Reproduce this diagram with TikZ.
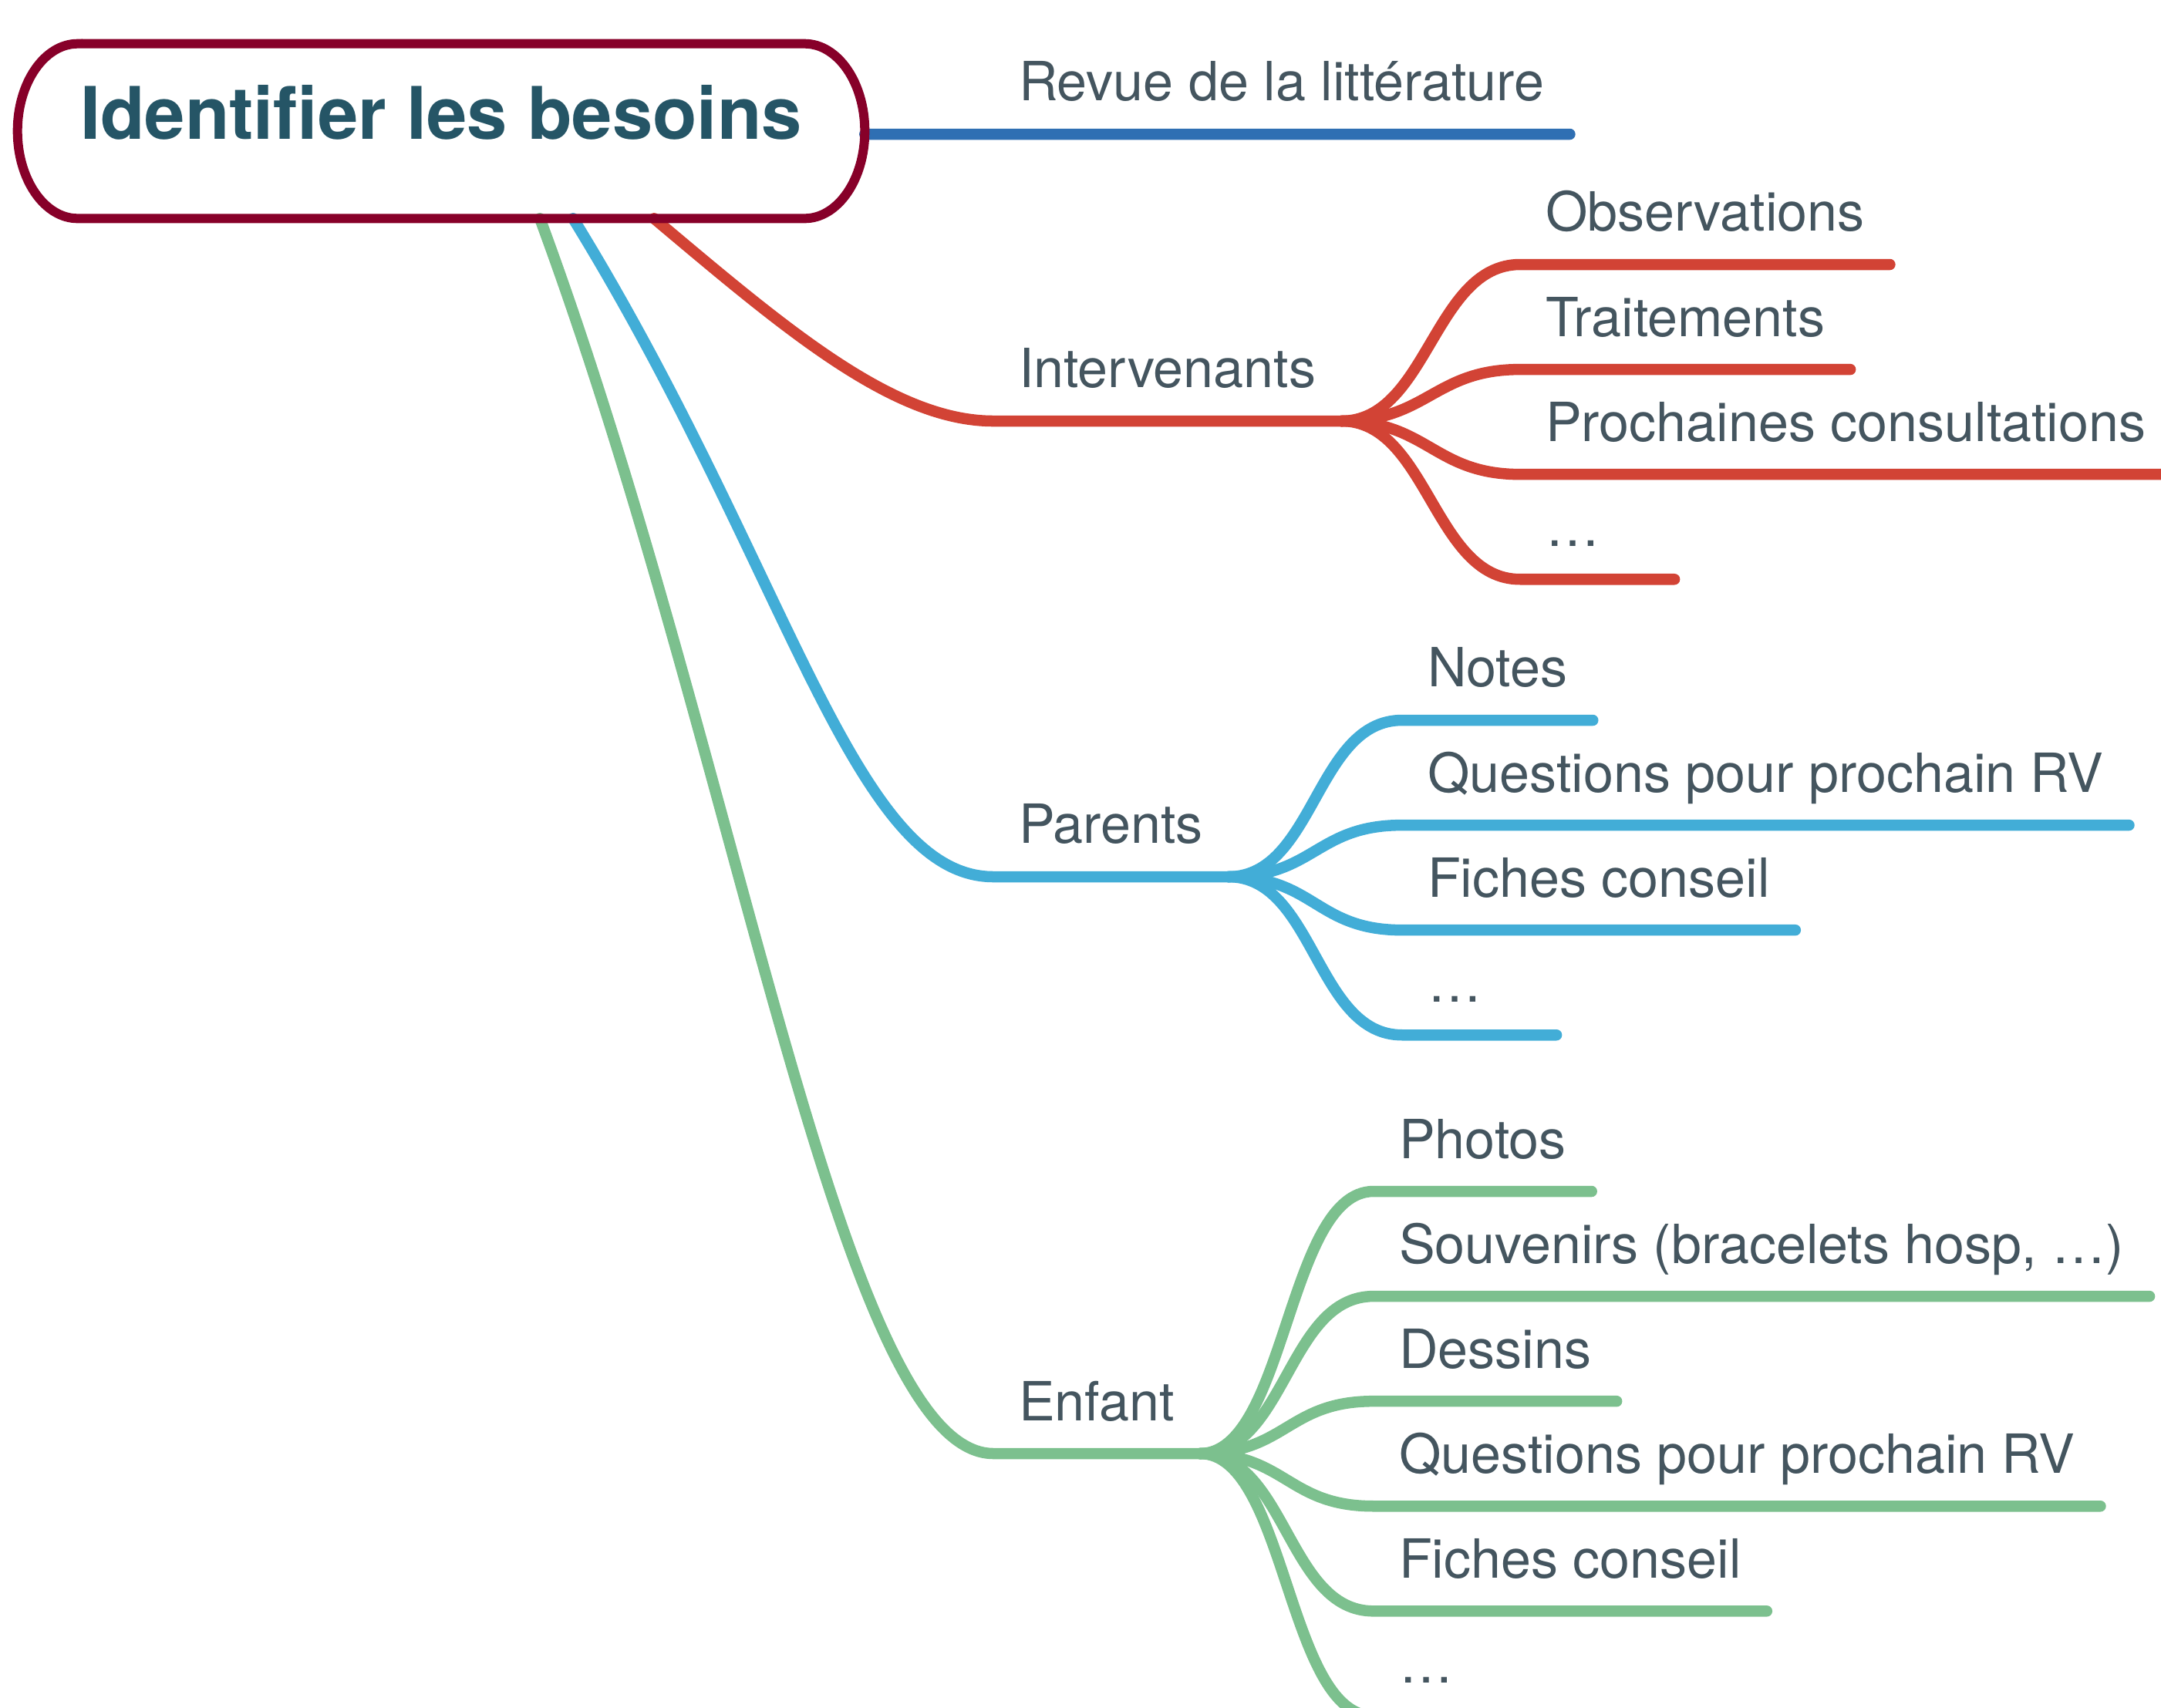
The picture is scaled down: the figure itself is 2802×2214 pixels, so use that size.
\documentclass[tikz,border=0pt]{standalone}
\usepackage{fontspec}
\setmainfont{TeX Gyre Heros}
\usetikzlibrary{positioning}
\usetikzlibrary{calc}

\definecolor{rootred}{HTML}{870029}
\definecolor{roottext}{HTML}{255566}
\definecolor{topictext}{HTML}{44555F}
\definecolor{revblue}{HTML}{2F6FB3}
\definecolor{intred}{HTML}{D24335}
\definecolor{parblue}{HTML}{42ADD7}
\definecolor{enfgreen}{HTML}{7CC08E}

\newcommand{\topicfont}{\fontsize{19.92pt}{24pt}\selectfont}
\newcommand{\rootfont}{\fontsize{26.75pt}{32pt}\selectfont\bfseries}

\tikzset{
  rootbox/.style     = { rectangle, minimum width=10.98cm, minimum height=2.265cm,
                         inner sep=0pt, outer sep=0pt, text height=0.7cm, text depth=0.5cm,
                         font=\rootfont, text=roottext },
  rootline/.style    = { line width=0.12cm, draw=rootred },
  topic/.style       = { rectangle, anchor=south west, inner xsep=0.33cm, inner ysep=0.43cm,
                         outer sep=0pt, text height=0.5cm, text depth=0pt,
                         font=\topicfont, text=topictext },
  leaf/.style        = { topic },
  dots/.style        = { leaf, text width=1.34cm, align=left },
}
\tikzset{
  branch/.style      = { line width=0.145cm, line cap=round, line join=round },
  revbranch/.style   = { branch, draw=revblue },
  redbranch/.style   = { branch, draw=intred },
  bluebranch/.style  = { branch, draw=parblue },
  greenbranch/.style = { branch, draw=enfgreen },
}

\begin{document}
\begin{tikzpicture}[x=0.01cm,y=-0.01cm]
  \useasboundingbox (0,0) rectangle (2802,2214);

  \node (root)    [rootbox] at (572,170)  {Identifier les besoins};

  \node (revue)   [topic]   at (1288,174)  {Revue de la littérature};
  \node (interv)  [topic]   at (1288,546)  {Intervenants};
  \node (parents) [topic]   at (1288,1137) {Parents};
  \node (enfant)  [topic]   at (1288,1885) {Enfant};

  % Intervenants
  \node (obs)     [leaf] at (1971,343)                                  {Observations};
  \node (trait)   [leaf,below=0pt of obs.south west,anchor=north west]   {Traitements};
  \node (proch)   [leaf,below=0pt of trait.south west,anchor=north west] {Prochaines consultations};
  \node (idots)   [dots,below=0pt of proch.south west,anchor=north west] {…};

  % Parents
  \node (notes)   [leaf] at (1818,934)                                   {Notes};
  \node (pquest)  [leaf,below=0pt of notes.south west,anchor=north west]  {Questions pour prochain RV};
  \node (pfiche)  [leaf,below=0pt of pquest.south west,anchor=north west] {Fiches conseil};
  \node (pdots)   [dots,below=0pt of pfiche.south west,anchor=north west] {…};

  % Enfant
  \node (photos)  [leaf] at (1781,1545)                                   {Photos};
  \node (souv)    [leaf,below=0pt of photos.south west,anchor=north west] {Souvenirs (bracelets hosp, …)};
  \node (dessins) [leaf,below=0pt of souv.south west,anchor=north west]   {Dessins};
  \node (equest)  [leaf,below=0pt of dessins.south west,anchor=north west]{Questions pour prochain RV};
  \node (efiche)  [leaf,below=0pt of equest.south west,anchor=north west] {Fiches conseil};
  \node (edots)   [dots,below=0pt of efiche.south west,anchor=north west] {…};

  \draw [revbranch]   ([yshift=-0.04cm]root.east) -- (revue.south east);
  \draw [redbranch]   ([xshift=2.76cm]root.south) .. controls +(170,143) and +(-130,0) .. (interv.south west) -- (interv.south east);
  \draw [bluebranch]  ([xshift=1.71cm]root.south) .. controls +(277,450) and +(-183,0) .. (parents.south west) -- (parents.south east);
  \draw [greenbranch] ([xshift=1.28cm]root.south) .. controls +(259,700) and +(-200,0) .. (enfant.south west) -- (enfant.south east);

  \foreach \leafname in {obs,trait,proch,idots}
    \draw [redbranch] (interv.south east) .. controls +(112,0) and +(-112,0) .. (\leafname.south west) -- (\leafname.south east);
  \foreach \leafname in {notes,pquest,pfiche,pdots}
    \draw [bluebranch] (parents.south east) .. controls +(112,0) and +(-112,0) .. (\leafname.south west) -- (\leafname.south east);
  \foreach \leafname in {photos,souv,dessins,equest,efiche,edots}
    \draw [greenbranch] (enfant.south east) .. controls +(112,0) and +(-112,0) .. (\leafname.south west) -- (\leafname.south east);

  \draw [rootline] ([xshift=0.78cm]root.north west) -- ([xshift=-0.78cm]root.north east)
    arc [start angle=90, end angle=-90, x radius=0.78cm, y radius=1.1325cm]
    -- ([xshift=0.78cm]root.south west)
    arc [start angle=270, end angle=90, x radius=0.78cm, y radius=1.1325cm] -- cycle;
\end{tikzpicture}
\end{document}
